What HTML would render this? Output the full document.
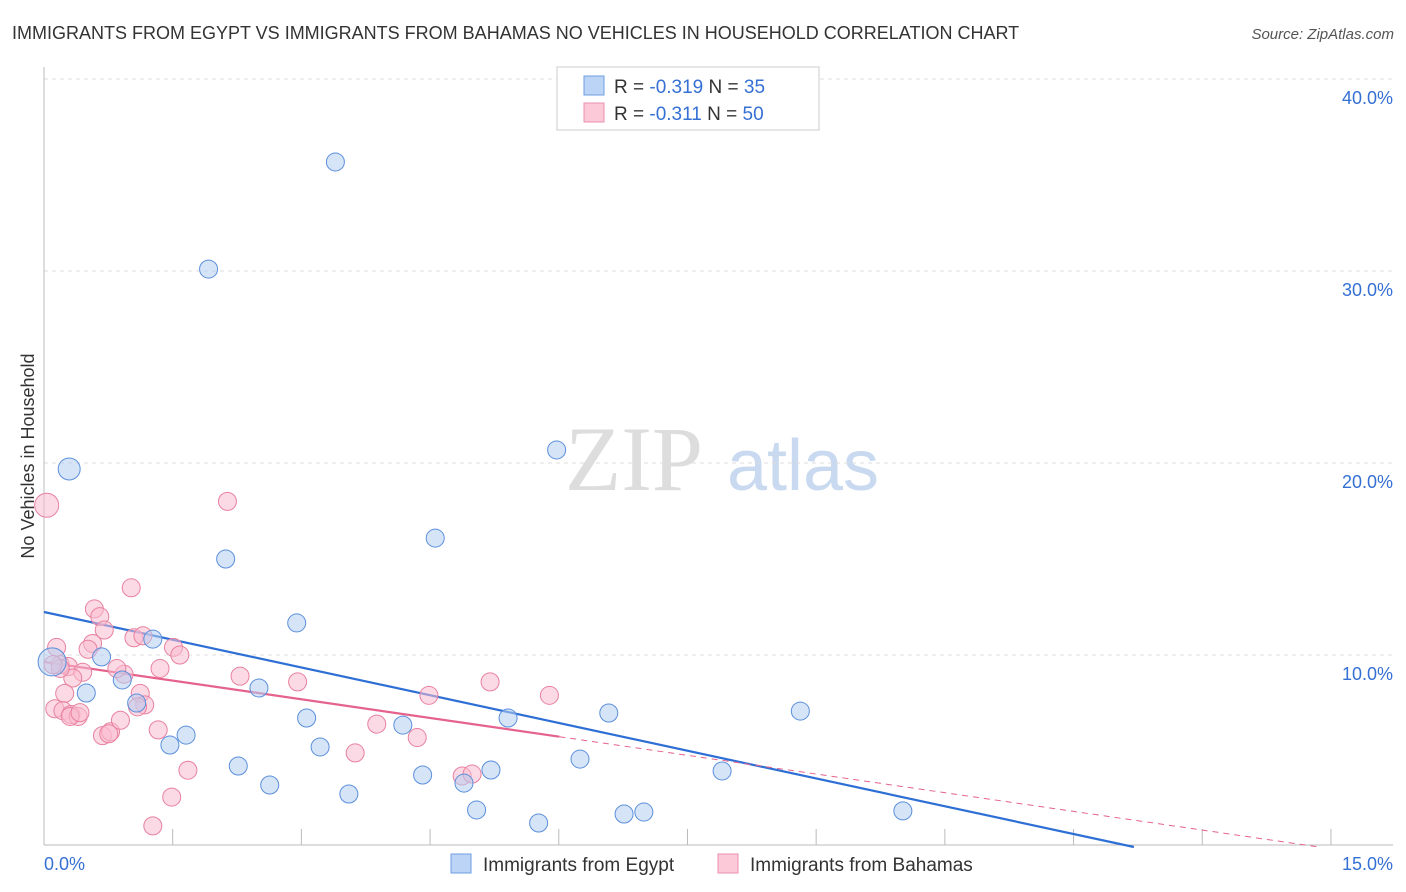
<!DOCTYPE html>
<html><head><meta charset="utf-8"><style>
body{margin:0;background:#fff;font-family:"Liberation Sans",sans-serif;}
</style></head><body>
<svg id="chart" width="1406" height="892" xmlns="http://www.w3.org/2000/svg" style="display:block">
<text x="12" y="39" font-size="18" fill="#333">IMMIGRANTS FROM EGYPT VS IMMIGRANTS FROM BAHAMAS NO VEHICLES IN HOUSEHOLD CORRELATION CHART</text>
<text x="1394" y="39" font-size="15" fill="#555" text-anchor="end" font-style="italic">Source: ZipAtlas.com</text>
<text transform="translate(34,456) rotate(-90)" font-size="18" fill="#333" text-anchor="middle">No Vehicles in Household</text>
<g><text x="634" y="490" font-size="92" fill="#ddd" text-anchor="middle" font-family="Liberation Serif,serif">ZIP</text><text x="803" y="490" font-size="72" fill="#c8d9f0" text-anchor="middle">atlas</text></g>
<g id="grid"></g><g id="axes"></g><g id="lines"></g><g id="pts"></g>
<g>
<rect x="557" y="67" width="262" height="63" fill="#fff" stroke="#ccc"/>
<rect x="584" y="76" width="20" height="19" fill="#bcd4f5" stroke="#6d9ee0"/>
<rect x="584" y="103" width="20" height="19" fill="#fbc9d8" stroke="#ec8fac"/>
<text x="614" y="93" font-size="19" fill="#333">R = <tspan fill="#3570d4">-0.319</tspan>   N = <tspan fill="#3570d4">35</tspan></text>
<text x="614" y="120" font-size="19" fill="#333">R =  <tspan fill="#3570d4">-0.311</tspan>   N = <tspan fill="#3570d4">50</tspan></text>
</g>
<g>
<rect x="451" y="854" width="20" height="19" fill="#bcd4f5" stroke="#6d9ee0"/>
<text x="483" y="871" font-size="19" fill="#333">Immigrants from Egypt</text>
<rect x="718" y="854" width="20" height="19" fill="#fbc9d8" stroke="#ec8fac"/>
<text x="750" y="871" font-size="19" fill="#333">Immigrants from Bahamas</text>
</g>
</svg>
<script>
const egyptX=[3.24,1.83,0.28,5.70,2.02,4.35,2.81,1.21,0.64,0.09,0.47,0.87,2.39,1.03,2.92,1.58,1.40,3.07,3.99,5.16,6.28,8.41,2.16,2.51,3.39,4.21,4.67,4.97,5.96,7.54,4.81,5.50,6.45,6.67,9.55];
const egyptY=[35.68,30.10,19.69,20.68,15.00,16.09,11.67,10.83,9.90,9.64,8.02,8.70,8.28,7.50,6.72,5.83,5.31,5.21,6.35,6.72,6.98,7.08,4.22,3.23,2.76,3.75,3.33,4.01,4.58,3.96,1.93,1.25,1.72,1.82,1.88];
const egyptR=[9,9,11,9,9,9,9,9,9,14,9,9,9,9,9,9,9,9,9,9,9,9,9,9,9,9,9,9,9,9,9,9,9,9,9];
const bahamasX=[0.03,2.04,0.97,0.56,0.62,0.67,1.00,1.10,1.44,1.51,0.54,0.49,0.14,0.18,0.27,0.43,0.32,0.89,0.81,1.29,1.07,1.12,1.04,0.23,0.12,0.21,0.30,0.38,0.65,0.74,0.85,1.27,2.18,2.82,3.46,3.70,4.15,4.28,4.65,4.76,4.96,5.62,1.60,1.42,1.21,0.29,0.40,0.72,0.18,0.10];
const bahamasY=[17.8,18.0,13.5,12.4,12.0,11.3,10.9,11.0,10.4,10.0,10.6,10.3,10.4,9.5,9.4,9.1,8.8,9.0,9.3,9.3,8.0,7.4,7.3,8.0,7.2,7.1,6.9,6.8,5.8,6.0,6.6,6.1,8.9,8.6,4.9,6.4,5.7,7.9,3.7,3.8,8.6,7.9,4.0,2.6,1.1,6.8,7.0,5.9,9.3,9.5];
const bahamasR=[12,9,9,9,9,9,9,9,9,9,9,9,9,9,9,9,9,9,9,9,9,9,9,9,9,9,9,9,9,9,9,9,9,9,9,9,9,9,9,9,9,9,9,9,9,9,9,9,9,9];
const yTicks=[10,20,30,40];
const yTickLabels=["10.0%","20.0%","30.0%","40.0%"];
const xTicks=[1.431,2.862,4.293,5.724,7.155,8.586,10.017,11.448,12.879,14.31];
const xLabels=["0.0%","15.0%"];
const egyptTrend=[12.24,-1.01];
const bahamasTrend=[9.64,-0.68];
const X=v=>44+v*1349/15, Y=v=>847-v*19.2;
const NS="http://www.w3.org/2000/svg";
function mk(p,t,a){const e=document.createElementNS(NS,t);for(const k in a)e.setAttribute(k,a[k]);p.appendChild(e);return e;}
const grid=document.getElementById('grid'),axes=document.getElementById('axes'),lines=document.getElementById('lines'),pts=document.getElementById('pts');
yTicks.forEach((v,i)=>{
 const l=mk(grid,'line',{x1:44,x2:1393,y1:Y(v),y2:Y(v),stroke:'#ddd','stroke-dasharray':'4,4'});
 
 
 const t=mk(axes,'text',{x:1393,y:Y(v)+25,'font-size':18,fill:'#3570d4','text-anchor':'end'});t.textContent=yTickLabels[i];
 
 
});
const ax=mk(axes,'line',{x1:44,x2:44,y1:67,y2:845,stroke:'#bbb'});


const bx=mk(axes,'line',{x1:44,x2:1393,y1:845,y2:845,stroke:'#bbb'});


xTicks.forEach(v=>{const t=mk(axes,'line',{x1:X(v),x2:X(v),y1:829,y2:845,stroke:'#bbb'});
 
 });
const xl0=mk(axes,'text',{x:44,y:870,'font-size':18,fill:'#3570d4'});xl0.textContent=xLabels[0];


const xl1=mk(axes,'text',{x:1393,y:870,'font-size':18,fill:'#3570d4','text-anchor':'end'});xl1.textContent=xLabels[1];


function drawPts(xs,ys,rs,fill,stroke,name){xs.forEach((x,i)=>{const c=mk(pts,'circle',{cx:X(x),cy:Y(ys[i]),r:rs[i],fill:fill,stroke:stroke,'stroke-width':1,'fill-opacity':0.55});
 
 });}
drawPts(bahamasX,bahamasY,bahamasR,'#f9bccf','#e8819f','bahamas-point');
drawPts(egyptX,egyptY,egyptR,'#b5cdf1','#5b8fdc','egypt-point');
function yAt(t,x){return t[0]+t[1]*x;}
const bxEnd=-egyptTrend[0]/egyptTrend[1];
const bl=mk(lines,'line',{x1:X(0),y1:Y(yAt(egyptTrend,0)),x2:X(bxEnd),y2:Y(0),stroke:'#2e6fd6','stroke-width':2.2});


const pl=mk(lines,'line',{x1:X(0),y1:Y(yAt(bahamasTrend,0)),x2:X(5.73),y2:Y(yAt(bahamasTrend,5.73)),stroke:'#e5628c','stroke-width':2.2});


const pe=-bahamasTrend[0]/bahamasTrend[1];
const pd=mk(lines,'line',{x1:X(5.73),y1:Y(yAt(bahamasTrend,5.73)),x2:X(pe),y2:Y(0),stroke:'#e5628c','stroke-width':1,'stroke-dasharray':'6,5'});


</script>
</body></html>
